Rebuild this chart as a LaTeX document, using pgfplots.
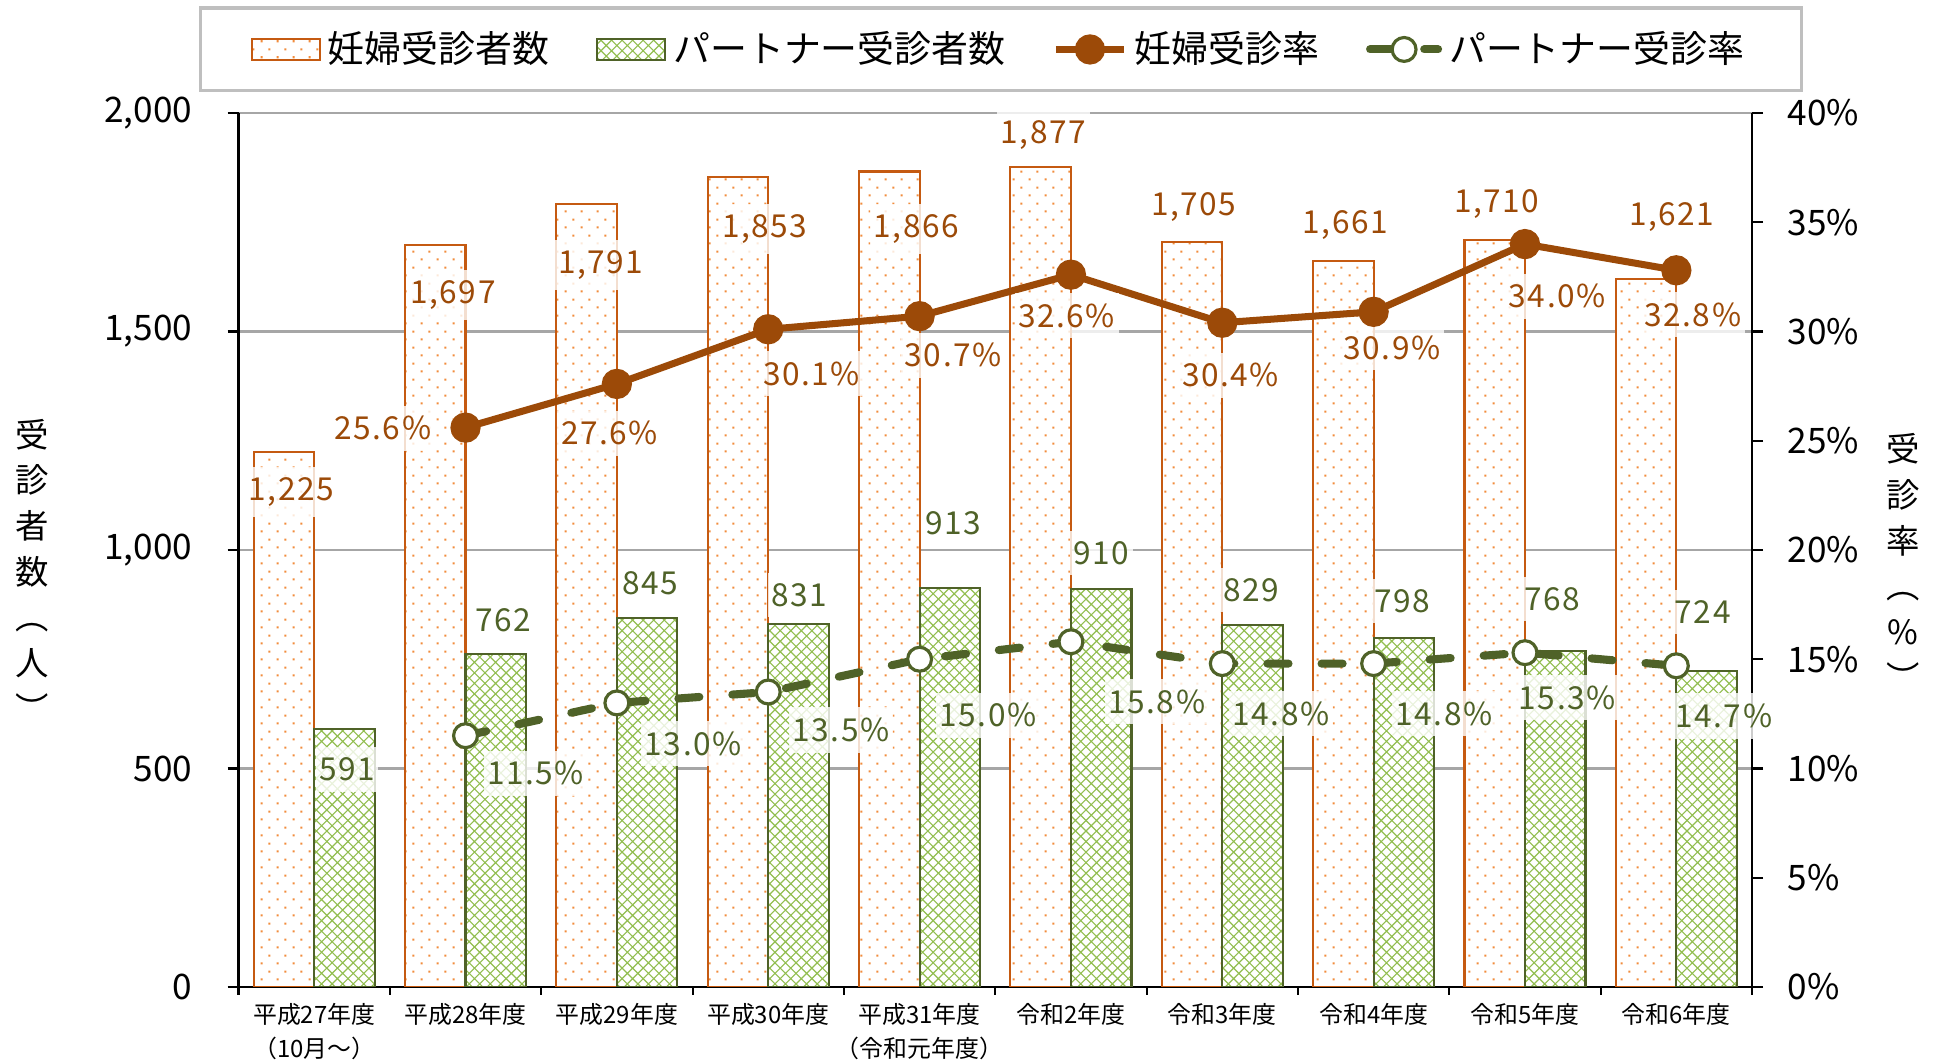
\documentclass[border=0pt]{standalone}
\usepackage{fontspec}
\setmainfont{Noto Sans CJK JP}
\newfontfamily\lblfont[LetterSpace=5]{Noto Sans CJK JP}
\usepackage{pgfplots}
\usepackage{pgfplotstable}
\pgfplotsset{compat=1.18}
\usetikzlibrary{patterns}

\definecolor{oLine}{RGB}{156,74,8}
\definecolor{oEdge}{RGB}{197,90,17}
\definecolor{oDot}{RGB}{242,140,60}
\definecolor{gLine}{RGB}{79,98,40}
\definecolor{gHatch}{RGB}{146,190,80}
\definecolor{gridc}{RGB}{166,166,166}
\definecolor{legc}{RGB}{191,191,191}

\pgfdeclarepatternformonly{odots}{\pgfqpoint{0pt}{0pt}}{\pgfqpoint{4.6pt}{4.6pt}}{\pgfqpoint{4.6pt}{4.6pt}}{%
 \pgfpathrectangle{\pgfqpoint{0.8pt}{0.8pt}}{\pgfqpoint{0.6pt}{0.6pt}}%
 \pgfpathrectangle{\pgfqpoint{3.1pt}{3.1pt}}{\pgfqpoint{0.6pt}{0.6pt}}%
 \pgfusepath{fill}}
\pgfdeclarepatternformonly{gcross}{\pgfqpoint{-0.5pt}{-0.5pt}}{\pgfqpoint{3.5pt}{3.5pt}}{\pgfqpoint{3pt}{3pt}}{%
 \pgfsetlinewidth{0.32pt}%
 \pgfpathmoveto{\pgfqpoint{-0.1pt}{-0.1pt}}\pgfpathlineto{\pgfqpoint{3.1pt}{3.1pt}}%
 \pgfpathmoveto{\pgfqpoint{-0.1pt}{3.1pt}}\pgfpathlineto{\pgfqpoint{3.1pt}{-0.1pt}}%
 \pgfusepath{stroke}}

\pgfplotstableread{
x n
0 1225
1 1697
2 1791
3 1853
4 1866
5 1877
6 1705
7 1661
8 1710
9 1621
}\tblOn
\pgfplotstableread{
x n
0 591
1 762
2 845
3 831
4 913
5 910
6 829
7 798
8 768
9 724
}\tblGn
\pgfplotstableread{
x r
1 25.6
2 27.6
3 30.1
4 30.7
5 32.6
6 30.4
7 30.9
8 34.0
9 32.8
}\tblOr
\pgfplotstableread{
x r
1 11.5
2 13.0
3 13.5
4 15.0
5 15.8
6 14.8
7 14.8
8 15.3
9 14.7
}\tblGr

\pgfplotsset{
 barlegend/.style={legend image code/.code={\draw[##1] (0mm,-1.05mm) rectangle (6.8mm,1.05mm);}},
 linelegend/.style={legend image code/.code={\draw[##1, mark repeat=2, mark phase=2] plot coordinates {(0mm,0mm) (3.4mm,0mm) (6.8mm,0mm)};}},
 obar/.style={draw=oEdge, line width=0.6pt, preaction={fill=white}, pattern=odots, pattern color=oDot},
 gbar/.style={draw=gLine, line width=0.6pt, preaction={fill=white}, pattern=gcross, pattern color=gHatch},
 oline/.style={oLine, line width=2pt, mark=*, mark size=3.3pt, mark options={fill=oLine, draw=oLine, solid}},
 gline/.style={gLine, line width=2.3pt, line cap=round, dash pattern=on 6pt off 9.4pt, mark=*, mark size=3.4pt, mark options={fill=white, draw=gLine, line width=0.9pt, solid}},
}
\tikzset{
 lO/.style={font=\lblfont\fontsize{9}{10}\selectfont, text=oLine, fill=white, fill opacity=0.8, text opacity=1, inner xsep=1pt, inner ysep=3pt},
 lG/.style={font=\lblfont\fontsize{9}{10}\selectfont, text=gLine, fill=white, fill opacity=0.8, text opacity=1, inner xsep=1pt, inner ysep=3pt},
}

\begin{document}
\begin{tikzpicture}
\useasboundingbox (0,0) rectangle (193.9mm,106.3mm);
\begin{axis}[
  at={(23.85mm,7.6mm)}, anchor=south west, scale only axis,
  width=151.35mm, height=87.4mm,
  xmin=-0.5, xmax=9.5, ymin=0, ymax=2000,
  axis x line*=bottom, axis y line*=left,
  axis line style={black, line width=0.6pt},
  tick align=outside,
  xtick={0,...,9},
  xticklabels={平成27年度\\（10月～）, 平成28年度, 平成29年度, 平成30年度, 平成31年度\\（令和元年度）, 令和2年度, 令和3年度, 令和4年度, 令和5年度, 令和6年度},
  xticklabel style={font=\fontsize{6.8}{9.6}\selectfont, align=center, yshift=2pt},
  minor xtick={-0.5,0.5,...,9.5},
  major x tick style={draw=none},
  minor x tick style={black, line width=0.6pt},
  minor tick length=0.8mm,
  major tick length=1.1mm,
  ytick={0,500,...,2000},
  y tick style={black, line width=0.6pt},
  ymajorgrids, grid style={gridc, line width=0.6pt},
  /pgf/number format/assume math mode=true,
  /pgf/number format/1000 sep={,},
  yticklabel style={font=\fontsize{10}{12}\selectfont, xshift=-6.5pt},
]
\addplot[ybar, bar width=0.4, bar shift=-0.2, obar] table[x=x, y=n] {\tblOn};
\addplot[ybar, bar width=0.4, bar shift=0.2, gbar] table[x=x, y=n] {\tblGn};
\end{axis}
\begin{axis}[
  at={(23.85mm,7.6mm)}, anchor=south west, scale only axis,
  width=151.35mm, height=87.4mm,
  xmin=-0.5, xmax=9.5, ymin=0, ymax=40,
  clip=false,
  axis x line=none, axis y line*=right,
  axis line style={black, line width=0.6pt},
  tick align=outside, major tick length=1.1mm,
  xtick=\empty,
  ytick={0,5,...,40},
  y tick style={black, line width=0.6pt},
  /pgf/number format/assume math mode=true,
  yticklabel={\pgfmathprintnumber{\tick}\%},
  yticklabel style={font=\fontsize{10}{12}\selectfont, xshift=3.5pt},
  legend columns=4,
  legend cell align=left,
  legend style={at={(0.5038,1.0727)}, anchor=center, draw=legc, line width=1pt,
    font=\fontsize{10.5}{12}\selectfont, inner xsep=5mm, inner ysep=1.6mm,
    /tikz/every even column/.append style={column sep=4mm}},
]
\addlegendimage{barlegend, obar}
\addlegendentry{妊婦受診者数}
\addlegendimage{barlegend, gbar}
\addlegendentry{パートナー受診者数}
\addplot[oline, linelegend] table[x=x, y=r] {\tblOr};
\addlegendentry{妊婦受診率}
\addplot[gline, linelegend] table[x=x, y=r] {\tblGr};
\addlegendentry{パートナー受診率}

\node[lO] at (axis cs:-0.15,22.64) {1,225};
\node[lO] at (axis cs:0.917,31.68) {1,697};
\node[lO] at (axis cs:1.894,33.04) {1,791};
\node[lO] at (axis cs:2.977,34.68) {1,853};
\node[lO] at (axis cs:3.979,34.68) {1,866};
\node[lO] at (axis cs:4.818,39.0) {1,877};
\node[lO] at (axis cs:5.811,35.7) {1,705};
\node[lO] at (axis cs:6.813,34.86) {1,661};
\node[lO] at (axis cs:7.814,35.82) {1,710};
\node[lO] at (axis cs:8.97,35.24) {1,621};

\node[lG] at (axis cs:0.217,9.96) {591};
\node[lG] at (axis cs:1.251,16.8) {762};
\node[lG] at (axis cs:2.22,18.5) {845};
\node[lG] at (axis cs:3.205,17.94) {831};
\node[lG] at (axis cs:4.223,21.22) {913};
\node[lG] at (axis cs:5.2,19.86) {910};
\node[lG] at (axis cs:6.194,18.16) {829};
\node[lG] at (axis cs:7.187,17.66) {798};
\node[lG] at (axis cs:8.18,17.76) {768};
\node[lG] at (axis cs:9.174,17.14) {724};

\node[lO] at (axis cs:0.453,25.57) {25.6\%};
\node[lO] at (axis cs:1.951,25.35) {27.6\%};
\node[lO] at (axis cs:3.287,28.06) {30.1\%};
\node[lO] at (axis cs:4.223,28.92) {30.7\%};
\node[lO] at (axis cs:4.972,30.72) {32.6\%};
\node[lO] at (axis cs:6.055,28.0) {30.4\%};
\node[lO] at (axis cs:7.122,29.26) {30.9\%};
\node[lO] at (axis cs:8.213,31.62) {34.0\%};
\node[lO] at (axis cs:9.109,30.78) {32.8\%};

\node[lG] at (axis cs:1.463,9.78) {11.5\%};
\node[lG] at (axis cs:2.505,11.14) {13.0\%};
\node[lG] at (axis cs:3.482,11.76) {13.5\%};
\node[lG] at (axis cs:4.451,12.44) {15.0\%};
\node[lG] at (axis cs:5.567,13.06) {15.8\%};
\node[lG] at (axis cs:6.389,12.5) {14.8\%};
\node[lG] at (axis cs:7.464,12.5) {14.8\%};
\node[lG] at (axis cs:8.279,13.24) {15.3\%};
\node[lG] at (axis cs:9.313,12.4) {14.7\%};
\end{axis}
\node[font=\fontsize{9.5}{13}\selectfont, align=center, inner sep=0pt] at (3.2mm,49.3mm) {受\\診\\者\\数\\︵\\人\\︶};
\node[font=\fontsize{9.5}{13}\selectfont, align=center, inner sep=0pt] at (190.3mm,50.1mm) {受\\診\\率\\︵\\\%\\︶};
\end{tikzpicture}
\end{document}
